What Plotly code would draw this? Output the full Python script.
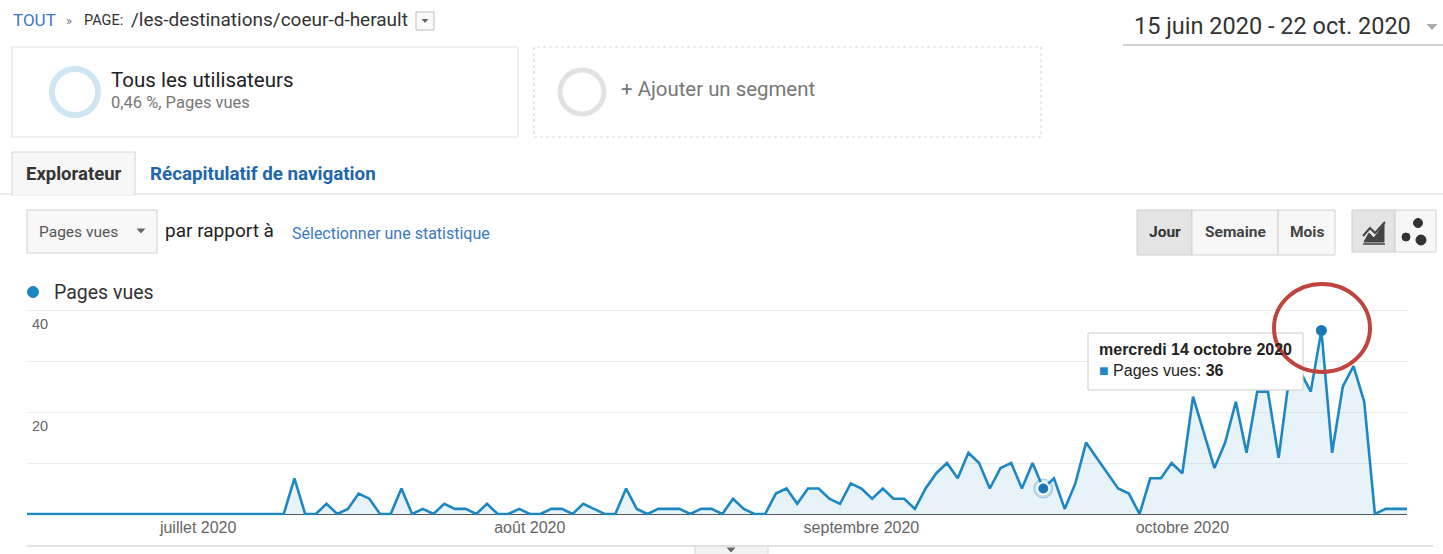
import pandas as pd
import plotly.graph_objects as go

# ---------------- data ----------------
start_date = "2020-06-15"
pageviews = [
    0, 0, 0, 0, 0, 0, 0, 0, 0, 0, 0, 0, 0, 0, 0, 0,          # 15-30 juin
    0, 0, 0, 0, 0, 0, 0, 0, 0, 7, 0, 0, 2, 0, 1, 4,          # 1-16 juil
    3, 0, 0, 5, 0, 1, 0, 2, 1, 1, 0, 2, 0, 0, 1,             # 17-31 juil
    0, 0, 1, 1, 0, 2, 1, 0, 0, 5, 1, 0, 1, 1, 1, 0,          # 1-16 août
    1, 1, 0, 3, 1, 0, 0, 4, 5, 2, 5, 5, 3, 2, 6,             # 17-31 août
    5, 3, 5, 3, 3, 1, 5, 8, 10, 7, 12, 10, 5, 9, 10,         # 1-15 sept
    5, 10, 5, 7, 1, 6, 14, 11, 8, 5, 4, 0, 7, 7, 10,         # 16-30 sept
    8, 23, 16, 9, 14, 22, 12, 24, 24, 11, 27, 28, 24, 36,    # 1-14 oct
    12, 25, 29, 22, 0, 1, 1, 1,                              # 15-22 oct
]
dates = pd.date_range(start_date, periods=len(pageviews), freq="D")

month_ticks = ["2020-07-01", "2020-08-01", "2020-09-01", "2020-10-01"]
month_labels = ["juillet 2020", "août 2020", "septembre 2020", "octobre 2020"]
y_label_vals = [20, 40]

tooltip_date = "2020-10-14"
tooltip_title = "mercredi 14 octobre 2020"
metric_name = "Pages vues"
hover_prev_date = "2020-09-18"

# ---------------- helpers ----------------
W, H = 1443, 554
def X(px): return px / W
def Y(py): return 1 - py / H

shapes, annos = [], []
UI = "Roboto, Arial, sans-serif"
AR = "Liberation Sans, Arial, sans-serif"

def text(x, y, s, size, color, bold=False, anchor="left", family=UI):
    annos.append(dict(x=X(x), y=Y(y), xref="paper", yref="paper", text=(f"<b>{s}</b>" if bold else s),
                      showarrow=False, xanchor=anchor, yanchor="middle", borderpad=0,
                      font=dict(size=size, color=color, family=family)))

def rect(x0, y0, x1, y1, fill="rgba(0,0,0,0)", line="rgba(0,0,0,0)", width=1, dash="solid"):
    shapes.append(dict(type="rect", xref="paper", yref="paper", x0=X(x0), x1=X(x1), y0=Y(y1), y1=Y(y0),
                       fillcolor=fill, line=dict(color=line, width=width, dash=dash)))

def hline(x0, x1, y, color, width=1):
    shapes.append(dict(type="line", xref="paper", yref="paper", x0=X(x0), x1=X(x1), y0=Y(y), y1=Y(y),
                       line=dict(color=color, width=width)))

def circle(cx, cy, rx, ry, line, width, fill="rgba(0,0,0,0)"):
    shapes.append(dict(type="circle", xref="paper", yref="paper", x0=X(cx - rx), x1=X(cx + rx),
                       y0=Y(cy + ry), y1=Y(cy - ry), fillcolor=fill, line=dict(color=line, width=width)))

def tri(cx, cy, w, h, color):
    p = f"M {X(cx - w/2)},{Y(cy - h/2)} L {X(cx + w/2)},{Y(cy - h/2)} L {X(cx)},{Y(cy + h/2)} Z"
    shapes.append(dict(type="path", xref="paper", yref="paper", path=p, fillcolor=color, line=dict(width=0)))

BLUE_LINK = "#3a78c3"

# ---------------- header ----------------
text(12, 20, "TOUT", 17, BLUE_LINK)
text(65, 21, "»", 13, "#777")
text(83, 21, "PAGE:", 14.5, "#333")
text(130, 20, "/les-destinations/coeur-d-herault", 19, "#333")
rect(416, 12, 434, 30, fill="#fafafa", line="#bbb")
tri(425, 21, 7, 4, "#666")

text(1133, 26, "15 juin 2020 - 22 oct. 2020", 23.5, "#333")
tri(1432, 27, 11, 6, "#aaa")
hline(1123, 1443, 45, "#cfcfcf", 2)

# segment boxes
rect(12, 47, 518, 137, fill="#ffffff", line="#e2e2e2", width=1.2)
circle(75, 92, 23, 23, "#cfe5f3", 6)
text(110, 80, "Tous les utilisateurs", 20.5, "#222")
text(110, 103, "0,46 %, Pages vues", 16.5, "#777")

rect(534, 47, 1041, 137, fill="#ffffff", line="#d9d9d9", width=1.2, dash="dot")
circle(582, 92, 22, 22, "#e2e2e2", 5)
text(620, 89, "+ Ajouter un segment", 20.4, "#777")

# tabs
hline(0, 1443, 194, "#d6d6d6", 1)
rect(12, 152, 135, 195, fill="#f7f7f7", line="#d6d6d6")
hline(13, 134, 194.5, "#f7f7f7", 2)
text(25, 174, "Explorateur", 18.5, "#333", bold=True)
text(149, 174, "Récapitulatif de navigation", 18.8, "#2166ac", bold=True)

# metric selector row
rect(27, 210, 157, 253, fill="#f8f8f8", line="#d0d0d0")
text(38, 232, "Pages vues", 15.5, "#555")
tri(141, 231, 9, 5, "#666")
text(164, 231, "par rapport à", 19, "#222")
text(291, 233, "Sélectionner une statistique", 16, BLUE_LINK)

# Jour / Semaine / Mois buttons
rect(1137, 210, 1192, 255, fill="#e4e4e4", line="#d0d0d0")
rect(1192, 210, 1278, 255, fill="#f7f7f7", line="#d0d0d0")
rect(1278, 210, 1335, 255, fill="#f7f7f7", line="#d0d0d0")
text(1164.5, 232, "Jour", 15.5, "#333", bold=True, anchor="center")
text(1235, 232, "Semaine", 15.5, "#444", bold=True, anchor="center")
text(1306.5, 232, "Mois", 15.5, "#444", bold=True, anchor="center")

rect(1352, 210, 1395, 252, fill="#e4e4e4", line="#d0d0d0")
rect(1395, 210, 1436, 252, fill="#f7f7f7", line="#d0d0d0")
icon = (f"M {X(1364)},{Y(242)} L {X(1369)},{Y(233)} L {X(1374)},{Y(238)} L {X(1384)},{Y(224)} "
        f"L {X(1384)},{Y(242)} Z")
shapes.append(dict(type="path", xref="paper", yref="paper", path=icon, fillcolor="#444", line=dict(color="#444", width=1)))
icon2 = f"M {X(1363)},{Y(236)} L {X(1370)},{Y(228)} L {X(1375)},{Y(233)} L {X(1385)},{Y(222)}"
shapes.append(dict(type="path", xref="paper", yref="paper", path=icon2, line=dict(color="#444", width=2)))
hline(1363, 1385, 244, "#444", 1.5)
circle(1418, 223, 4.5, 4.5, "#333", 1, fill="#333")
circle(1406, 237, 4, 4, "#333", 1, fill="#333")
circle(1421, 240, 5, 5, "#333", 1, fill="#333")

# legend
circle(33, 292, 5.5, 5.5, "#1a86c6", 1, fill="#1a86c6")
text(53, 292, metric_name, 19.5, "#333")

# bottom line + tab
hline(27, 1433, 546, "#d8d8d8", 1.5)
rect(695, 546, 768, 560, fill="#f2f2f2", line="#d8d8d8")
tri(731, 550, 9, 5, "#666")

# ---------------- chart ----------------
LINE = "#1d87c4"
fig = go.Figure()
fig.add_trace(go.Scatter(x=dates, y=pageviews, mode="lines", line=dict(color=LINE, width=2.6),
                         fill="tozeroy", fillcolor="rgba(29,135,196,0.10)", hoverinfo="skip",
                         showlegend=False))

i_prev = list(dates).index(pd.Timestamp(hover_prev_date))
fig.add_trace(go.Scatter(x=[dates[i_prev]], y=[pageviews[i_prev]], mode="markers",
                         marker=dict(size=19, color="rgba(29,135,196,0.18)", line=dict(color="rgba(29,135,196,0.35)", width=1)),
                         showlegend=False, hoverinfo="skip"))
fig.add_trace(go.Scatter(x=[dates[i_prev]], y=[pageviews[i_prev]], mode="markers",
                         marker=dict(size=12, color="#1a78b8", line=dict(color="white", width=2)),
                         showlegend=False, hoverinfo="skip"))

i_peak = list(dates).index(pd.Timestamp(tooltip_date))
fig.add_trace(go.Scatter(x=[dates[i_peak]], y=[pageviews[i_peak]], mode="markers",
                         marker=dict(size=11, color="#1a78b8"), showlegend=False, hoverinfo="skip"))

# y labels (GA style, below gridline)
for v in y_label_vals:
    annos.append(dict(x=X(30), y=v, xref="paper", yref="y", text=str(v), showarrow=False,
                      xanchor="left", yanchor="top", yshift=-4, font=dict(size=14.5, color="#666", family=AR)))

# tooltip
rect(1088, 333, 1303, 390, fill="#ffffff", line="#cccccc")
text(1098, 349, tooltip_title, 16, "#222", bold=True, family=AR)
text(1098, 370, f"<span style='color:{LINE}'>■</span> {metric_name}: <b>{pageviews[i_peak]}</b>", 16, "#222", family=AR)

# red circle
circle(1322, 328, 48, 44, "#c0433c", 4)

PX_PER_UNIT = 5.1
PLOT_TOP, PLOT_BOT = 310 - 0.4 * PX_PER_UNIT, 514 + 0.3 * PX_PER_UNIT
fig.update_layout(
    width=W, height=H, margin=dict(l=0, r=0, t=0, b=0),
    paper_bgcolor="white", plot_bgcolor="white",
    xaxis=dict(domain=[X(27), X(1407)], type="date", range=[dates[0], dates[-1]],
               tickvals=month_ticks, ticktext=month_labels, ticks="", showgrid=False,
               showline=False, zeroline=False, tickfont=dict(size=16, color="#666", family=AR)),
    yaxis=dict(domain=[Y(PLOT_BOT), Y(PLOT_TOP)], range=[-0.3, 40.4], dtick=10, showticklabels=False,
               showgrid=True, gridcolor="#ececec", gridwidth=1, zeroline=True, zerolinecolor="#555",
               zerolinewidth=1.2, showline=False),
    shapes=shapes, annotations=annos, hovermode=False, showlegend=False,
)
fig.write_html("out.html", config={"displayModeBar": False},
               post_script="document.body.style.margin='0px';")
